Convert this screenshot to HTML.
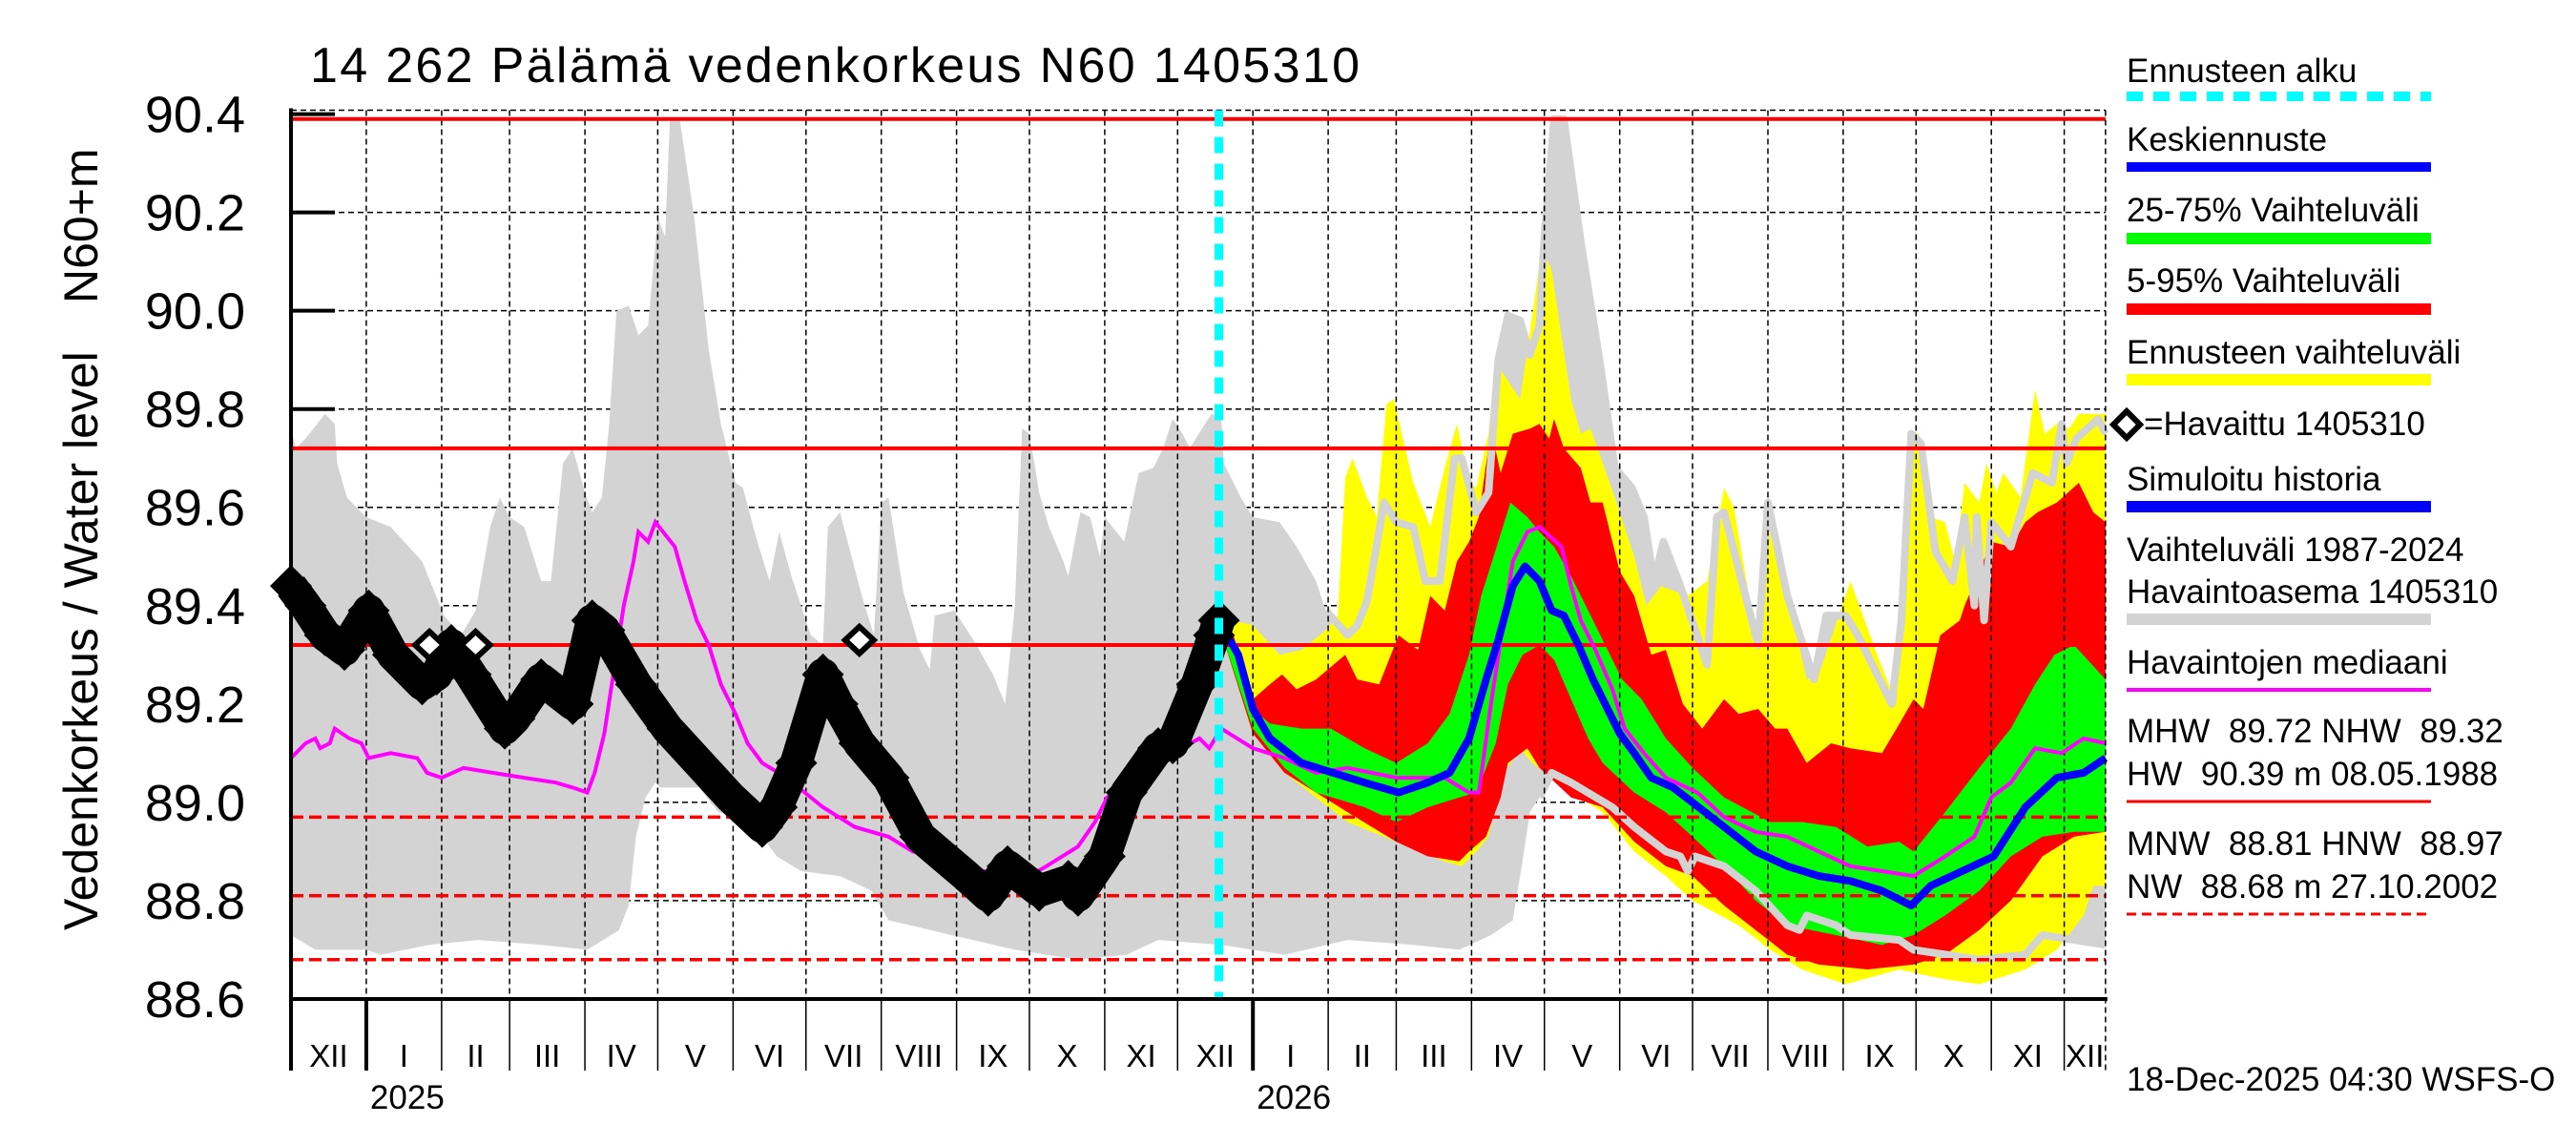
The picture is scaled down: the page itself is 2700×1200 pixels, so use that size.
<!DOCTYPE html>
<html><head><meta charset="utf-8"><style>
html,body{margin:0;padding:0;background:#fff;}
svg{display:block;font-family:"Liberation Sans",Arial,sans-serif;}
</style></head><body>
<svg id="chart" width="2700" height="1200" viewBox="0 0 2700 1200" xmlns="http://www.w3.org/2000/svg">
<rect width="2700" height="1200" fill="#fff"/>
<g id="grid"></g>
<g id="bands"></g>
<g id="lines"></g>
<g id="axes"></g>
<text x="325" y="86" font-size="52" textLength="1100">14 262 Pälämä vedenkorkeus N60 1405310</text>
<text transform="translate(102,975) rotate(-90)" font-size="50">Vedenkorkeus / Water level</text>
<text transform="translate(102,318) rotate(-90)" font-size="50">N60+m</text>
<g id="legend" font-size="35">
 <text x="2229" y="86">Ennusteen alku</text>
 <line x1="2229" y1="101" x2="2548" y2="101" stroke="#00ffff" stroke-width="10" stroke-dasharray="17,11"/>
 <text x="2229" y="158">Keskiennuste</text>
 <line x1="2229" y1="175" x2="2548" y2="175" stroke="#0000ff" stroke-width="10"/>
 <text x="2229" y="232">25-75% Vaihteluväli</text>
 <line x1="2229" y1="250" x2="2548" y2="250" stroke="#00ff00" stroke-width="12"/>
 <text x="2229" y="306">5-95% Vaihteluväli</text>
 <line x1="2229" y1="324" x2="2548" y2="324" stroke="#ff0000" stroke-width="12"/>
 <text x="2229" y="381">Ennusteen vaihteluväli</text>
 <line x1="2229" y1="398" x2="2548" y2="398" stroke="#ffff00" stroke-width="12"/>
 <path d="M2229,431 L2243,445 L2229,459 L2215,445 Z" fill="#fff" stroke="#000" stroke-width="6"/>
 <text x="2247" y="456">=Havaittu 1405310</text>
 <text x="2229" y="514">Simuloitu historia</text>
 <line x1="2229" y1="531" x2="2548" y2="531" stroke="#0000ff" stroke-width="12"/>
 <text x="2229" y="588">Vaihteluväli 1987-2024</text>
 <text x="2229" y="632">Havaintoasema 1405310</text>
 <line x1="2229" y1="649" x2="2548" y2="649" stroke="#d3d3d3" stroke-width="12"/>
 <text x="2229" y="706">Havaintojen mediaani</text>
 <line x1="2229" y1="723" x2="2548" y2="723" stroke="#ff00ff" stroke-width="4"/>
 <text x="2229" y="778" xml:space="preserve">MHW  89.72 NHW  89.32</text>
 <text x="2229" y="823" xml:space="preserve">HW  90.39 m 08.05.1988</text>
 <line x1="2229" y1="840" x2="2548" y2="840" stroke="#ff0000" stroke-width="3"/>
 <text x="2229" y="896" xml:space="preserve">MNW  88.81 HNW  88.97</text>
 <text x="2229" y="941" xml:space="preserve">NW  88.68 m 27.10.2002</text>
 <line x1="2229" y1="958" x2="2548" y2="958" stroke="#ff0000" stroke-width="3" stroke-dasharray="10,6"/>
</g>
<text x="2229" y="1143" font-size="35">18-Dec-2025 04:30 WSFS-O</text>
<script>
const yTicks = [88.6, 88.8, 89.0, 89.2, 89.4, 89.6, 89.8, 90.0, 90.2, 90.4];
const monthLengths = [31,31,28,31,30,31,30,31,31,30,31,30,31,31,28,31,30,31,30,31,31,30,31,30,31];
const monthLabels = ["XII","I","II","III","IV","V","VI","VII","VIII","IX","X","XI","XII","I","II","III","IV","V","VI","VII","VIII","IX","X","XI","XII"];
const yearLabels = ["2025","2026"];
const refSolid = [90.39, 89.72, 89.32];
const refDashed = [88.97, 88.81, 88.68];
const forecastStartDay = 382;
const endDay = 747;
const grayUpper = [[0,89.76],[2,89.72],[6,89.74],[14,89.79],[18,89.77],[19,89.69],[23,89.62],[31,89.58],[41,89.56],[54,89.49],[63,89.38],[70,89.34],[76,89.39],[82,89.56],[86,89.62],[90,89.58],[96,89.56],[103,89.45],[107,89.45],[112,89.69],[116,89.72],[121,89.63],[124,89.59],[128,89.62],[131,89.77],[134,90.0],[139,90.01],[143,89.95],[147,89.97],[151,90.19],[154,90.15],[156,90.39],[160,90.39],[166,90.19],[172,89.92],[177,89.77],[183,89.65],[186,89.64],[192,89.53],[197,89.45],[201,89.55],[206,89.46],[214,89.34],[219,89.32],[221,89.56],[226,89.59],[235,89.42],[240,89.34],[243,89.61],[246,89.62],[252,89.43],[259,89.31],[263,89.27],[265,89.38],[273,89.39],[281,89.33],[289,89.26],[294,89.20],[298,89.40],[301,89.76],[304,89.75],[308,89.63],[312,89.56],[318,89.49],[320,89.46],[323,89.54],[325,89.59],[329,89.58],[333,89.50],[335,89.58],[343,89.53],[349,89.67],[355,89.68],[359,89.72],[363,89.78],[367,89.75],[370,89.72],[375,89.76],[379,89.79],[383,89.78],[384,89.69],[391,89.62],[396,89.58],[407,89.57],[414,89.52],[422,89.45],[426,89.39],[435,89.34],[439,89.36],[443,89.41],[450,89.61],[455,89.57],[462,89.56],[467,89.45],[473,89.45],[479,89.70],[482,89.70],[488,89.59],[493,89.63],[497,89.90],[501,89.99],[506,89.98],[510,89.91],[514,89.97],[516,90.15],[520,90.39],[524,90.39],[531,90.14],[539,89.89],[545,89.68],[552,89.64],[557,89.58],[561,89.45],[565,89.53],[572,89.44],[583,89.28],[587,89.58],[590,89.59],[604,89.32],[608,89.61],[616,89.42],[627,89.25],[632,89.38],[640,89.38],[645,89.34],[659,89.20],[663,89.37],[667,89.75],[671,89.73],[677,89.51],[684,89.45],[689,89.58],[693,89.40],[694,89.58],[697,89.37],[700,89.57],[708,89.52],[717,89.67],[725,89.65],[729,89.77],[731,89.69],[735,89.74],[744,89.78],[747,89.75]];
const grayLower = [[0,88.73],[10,88.70],[31,88.70],[37,88.69],[57,88.71],[77,88.72],[103,88.71],[122,88.70],[135,88.74],[139,88.79],[142,88.93],[146,89.01],[150,89.04],[152,89.03],[159,89.03],[168,89.03],[176,88.98],[188,88.96],[194,88.93],[200,88.89],[210,88.86],[226,88.85],[239,88.82],[246,88.76],[255,88.75],[272,88.73],[298,88.70],[324,88.68],[344,88.69],[357,88.72],[383,88.71],[409,88.69],[435,88.72],[462,88.71],[481,88.70],[494,88.73],[503,88.76],[507,88.88],[510,88.98],[514,89.01],[519,89.06],[527,89.04],[544,88.99],[553,88.95],[566,88.90],[572,88.89],[575,88.86],[578,88.89],[590,88.87],[603,88.82],[616,88.75],[621,88.74],[624,88.77],[636,88.75],[642,88.73],[662,88.72],[668,88.70],[695,88.68],[714,88.69],[721,88.73],[734,88.72],[747,88.71]];
const yellowUpper = [[382,89.36],[388,89.37],[396,89.36],[407,89.30],[416,89.31],[426,89.35],[431,89.38],[434,89.66],[437,89.70],[443,89.62],[447,89.58],[451,89.81],[454,89.82],[462,89.65],[469,89.56],[475,89.68],[480,89.77],[485,89.65],[488,89.64],[493,89.75],[496,89.91],[498,89.88],[506,89.82],[511,89.99],[515,90.13],[519,90.08],[527,89.82],[531,89.75],[535,89.76],[545,89.62],[553,89.50],[558,89.40],[564,89.44],[575,89.42],[583,89.45],[590,89.64],[594,89.60],[603,89.34],[608,89.59],[613,89.49],[624,89.25],[629,89.26],[642,89.45],[653,89.30],[661,89.20],[666,89.75],[670,89.75],[675,89.58],[681,89.57],[685,89.49],[689,89.65],[695,89.61],[698,89.69],[702,89.63],[705,89.67],[712,89.62],[718,89.84],[722,89.75],[727,89.77],[732,89.76],[736,89.79],[747,89.79]];
const yellowLower = [[382,89.36],[396,89.14],[409,89.06],[422,89.01],[435,88.96],[455,88.92],[475,88.88],[482,88.87],[488,88.90],[493,88.93],[498,89.05],[506,89.11],[511,89.08],[527,89.02],[540,88.98],[553,88.90],[566,88.85],[577,88.80],[596,88.75],[609,88.70],[622,88.66],[640,88.63],[662,88.66],[681,88.64],[695,88.63],[714,88.66],[727,88.70],[738,88.77],[742,88.83],[747,88.83]];
const redUpper = [[382,89.36],[388,89.34],[396,89.21],[403,89.24],[408,89.26],[414,89.23],[422,89.25],[434,89.30],[439,89.25],[448,89.24],[456,89.34],[464,89.31],[469,89.42],[475,89.39],[480,89.49],[485,89.53],[489,89.58],[494,89.76],[498,89.67],[503,89.75],[510,89.76],[514,89.77],[518,89.74],[520,89.78],[524,89.72],[531,89.68],[535,89.61],[540,89.61],[547,89.47],[553,89.42],[560,89.30],[566,89.31],[573,89.20],[581,89.15],[590,89.21],[596,89.18],[604,89.19],[611,89.15],[616,89.15],[624,89.08],[634,89.12],[642,89.11],[655,89.10],[661,89.15],[668,89.21],[672,89.19],[679,89.34],[687,89.37],[689,89.40],[700,89.53],[708,89.52],[714,89.57],[719,89.59],[727,89.61],[736,89.65],[742,89.59],[747,89.57]];
const redLower = [[382,89.36],[396,89.14],[409,89.06],[422,89.02],[435,88.98],[455,88.92],[468,88.89],[481,88.88],[485,88.90],[492,88.93],[498,89.01],[501,89.08],[509,89.11],[514,89.07],[527,89.01],[540,88.99],[553,88.92],[566,88.87],[577,88.85],[590,88.79],[603,88.74],[616,88.69],[629,88.67],[649,88.66],[668,88.67],[681,88.69],[695,88.74],[708,88.80],[721,88.89],[734,88.93],[747,88.94]];
const greenUpper = [[382,89.36],[388,89.31],[396,89.19],[403,89.16],[416,89.15],[428,89.15],[442,89.11],[455,89.08],[468,89.12],[477,89.18],[485,89.30],[490,89.42],[497,89.53],[502,89.61],[509,89.58],[514,89.55],[520,89.52],[527,89.46],[534,89.39],[540,89.33],[548,89.25],[556,89.21],[566,89.13],[577,89.07],[590,89.01],[609,88.96],[622,88.96],[636,88.95],[649,88.91],[662,88.92],[668,88.90],[681,88.98],[695,89.07],[708,89.15],[718,89.24],[726,89.30],[734,89.32],[747,89.25]];
const greenLower = [[382,89.36],[396,89.15],[409,89.07],[422,89.02],[442,88.99],[455,88.96],[468,88.99],[481,89.01],[488,89.02],[496,89.12],[501,89.24],[507,89.30],[514,89.32],[520,89.29],[527,89.21],[534,89.13],[540,89.08],[553,89.02],[566,88.98],[577,88.93],[590,88.87],[603,88.80],[616,88.75],[636,88.73],[655,88.71],[668,88.73],[681,88.77],[695,88.82],[708,88.89],[721,88.93],[734,88.94],[747,88.94]];
const meanForecast = [[382,89.37],[390,89.30],[396,89.19],[403,89.13],[416,89.08],[429,89.06],[442,89.04],[456,89.02],[468,89.04],[477,89.06],[485,89.13],[492,89.25],[497,89.33],[503,89.44],[508,89.48],[514,89.45],[519,89.39],[524,89.38],[530,89.32],[536,89.25],[547,89.14],[553,89.10],[560,89.05],[569,89.03],[577,89.00],[590,88.95],[603,88.90],[616,88.87],[629,88.85],[642,88.84],[655,88.82],[667,88.79],[675,88.83],[688,88.86],[701,88.89],[714,88.99],[727,89.05],[738,89.06],[747,89.09]];
const medianSeries = [[0,89.09],[6,89.12],[10,89.13],[12,89.11],[16,89.12],[18,89.15],[24,89.13],[29,89.12],[32,89.09],[41,89.10],[52,89.09],[56,89.06],[62,89.05],[71,89.07],[83,89.06],[96,89.05],[109,89.04],[116,89.03],[122,89.02],[125,89.06],[129,89.14],[133,89.27],[137,89.40],[141,89.49],[143,89.55],[147,89.53],[150,89.57],[158,89.52],[162,89.45],[167,89.37],[172,89.32],[177,89.24],[183,89.18],[188,89.12],[194,89.08],[204,89.05],[219,88.99],[232,88.95],[246,88.93],[256,88.90],[272,88.88],[285,88.86],[304,88.85],[311,88.87],[324,88.91],[331,88.96],[336,89.01],[344,89.04],[354,89.12],[363,89.10],[374,89.13],[378,89.11],[383,89.15],[396,89.11],[409,89.09],[422,89.06],[435,89.07],[455,89.05],[475,89.05],[485,89.02],[489,89.02],[494,89.20],[498,89.33],[503,89.49],[509,89.55],[514,89.56],[523,89.52],[527,89.44],[531,89.37],[537,89.31],[544,89.23],[549,89.15],[557,89.10],[566,89.05],[579,89.02],[590,88.97],[603,88.94],[616,88.93],[629,88.90],[642,88.87],[655,88.86],[668,88.85],[681,88.89],[693,88.93],[700,89.01],[708,89.04],[718,89.11],[729,89.10],[738,89.13],[747,89.12]];
const observed = [[0,89.44],[6,89.40],[14,89.34],[22,89.31],[32,89.39],[42,89.30],[54,89.24],[60,89.26],[66,89.32],[74,89.26],[88,89.15],[92,89.17],[103,89.25],[116,89.20],[124,89.37],[129,89.35],[142,89.24],[155,89.15],[168,89.08],[181,89.01],[194,88.95],[200,88.99],[208,89.08],[219,89.26],[225,89.20],[234,89.12],[246,89.05],[259,88.93],[278,88.85],[287,88.81],[295,88.87],[308,88.82],[320,88.84],[324,88.81],[335,88.89],[344,89.02],[357,89.11],[363,89.12],[373,89.24],[380,89.34],[382,89.37]];
const observedExtra = [[57,89.32],[76,89.32],[234,89.33]];

const NS = "http://www.w3.org/2000/svg";
const X0 = 305, PX_PER_DAY = 2.546, Y_TOP_VAL = 90.438, Y0 = 100, PX_PER_M = 515.2;
function xs(d){ return X0 + d * PX_PER_DAY; }
function ys(v){ return Y0 + (Y_TOP_VAL - v) * PX_PER_M; }
const PLOT_TOP = ys(90.408), PLOT_BOTTOM = ys(88.6), PLOT_RIGHT = xs(endDay);
function mk(tag, attrs, parent){ const e = document.createElementNS(NS, tag); for (const k in attrs) e.setAttribute(k, attrs[k]); parent.appendChild(e); return e; }
function pts(arr){ return arr.map(p => xs(p[0]).toFixed(1) + "," + ys(p[1]).toFixed(1)).join(" "); }
function band(up, lo){ return pts(up) + " " + pts(lo.slice().reverse()); }
const grid = document.getElementById("grid"), bands = document.getElementById("bands"), lines = document.getElementById("lines"), axes = document.getElementById("axes");

if (!document.getElementById("done-flag")) {
const flag = mk("g", {id: "done-flag"}, grid);



yTicks.forEach(t => {
  const tk = mk("line", {x1: X0, x2: X0 + 46, y1: ys(t), y2: ys(t), stroke: "#000", "stroke-width": 4}, grid);
  
  
  const gy = ys(t === 90.4 ? 90.408 : t);
  const gl = mk("line", {x1: X0, x2: PLOT_RIGHT, y1: gy, y2: gy, stroke: "#000", "stroke-width": 1.5, "stroke-dasharray": "6,4"}, grid);
  
  
  const lb = mk("text", {x: 257, y: ys(t) + 19, "font-size": 54, "text-anchor": "end"}, axes);
  lb.textContent = t.toFixed(1);
  
  
});

const gb = mk("polygon", {points: band(grayUpper, grayLower), fill: "#d3d3d3"}, bands);



let day = 0;
const monthStarts = [];
monthLengths.forEach(len => { monthStarts.push(day); day += len; });
let gridPath = "";
monthStarts.forEach((d, i) => {
  if (i > 0 && d <= endDay) gridPath += "M" + xs(d).toFixed(1) + "," + PLOT_TOP.toFixed(1) + "V" + PLOT_BOTTOM.toFixed(1);
});

[[yellowUpper, yellowLower, "#ffff00", "forecast-range-band"], [redUpper, redLower, "#ff0000", "band-5-95"], [greenUpper, greenLower, "#00ff00", "band-25-75"]].forEach(b => {
  const p = mk("polygon", {points: band(b[0], b[1]), fill: b[2]}, bands);
  
  
});
[grayUpper, grayLower].forEach((arr, i) => {
  const seg = arr.filter(p => p[0] >= (i === 0 ? 426 : 514));
  const l = mk("polyline", {points: pts(seg), fill: "none", stroke: "#d3d3d3", "stroke-width": 8, "stroke-linejoin": "round"}, bands);
  
  
});

const mg = mk("path", {d: gridPath, fill: "none", stroke: "#000", "stroke-width": 1.5, "stroke-dasharray": "6,4"}, lines);



refSolid.forEach(v => {
  const l = mk("line", {x1: X0, x2: PLOT_RIGHT, y1: ys(v), y2: ys(v), stroke: "#ff0000", "stroke-width": 4}, lines);
  
  
});
refDashed.forEach(v => {
  const l = mk("line", {x1: X0, x2: PLOT_RIGHT, y1: ys(v), y2: ys(v), stroke: "#ff0000", "stroke-width": 3.5, "stroke-dasharray": "13,6"}, lines);
  
  
});

const md = mk("polyline", {points: pts(medianSeries), fill: "none", stroke: "#ff00ff", "stroke-width": 4}, lines);


const mf = mk("polyline", {points: pts(meanForecast), fill: "none", stroke: "#0000ff", "stroke-width": 8, "stroke-linejoin": "round"}, lines);


const ob = mk("polyline", {points: pts(observed), fill: "none", stroke: "#000", "stroke-width": 34, "stroke-linejoin": "round"}, lines);


observed.forEach(p => {
  const x = xs(p[0]), y = ys(p[1]);
  const dm = mk("path", {d: `M${x},${y-22} L${x+22},${y} L${x},${y+22} L${x-22},${y} Z`, fill: "#000"}, lines);
  
  
});
observedExtra.forEach(p => {
  const x = xs(p[0]), y = ys(p[1]);
  const dm = mk("path", {d: `M${x},${y-14} L${x+15},${y} L${x},${y+14} L${x-15},${y} Z`, fill: "#fff", stroke: "#000", "stroke-width": 6}, lines);
  
  
});

const fs = mk("line", {x1: xs(forecastStartDay), x2: xs(forecastStartDay), y1: PLOT_TOP, y2: PLOT_BOTTOM, stroke: "#00ffff", "stroke-width": 9, "stroke-dasharray": "17,11"}, lines);



const ya = mk("line", {x1: X0, x2: X0, y1: PLOT_TOP - 2, y2: 1122, stroke: "#000", "stroke-width": 4}, axes);


const xa = mk("line", {x1: X0, x2: PLOT_RIGHT + 2, y1: PLOT_BOTTOM, y2: PLOT_BOTTOM, stroke: "#000", "stroke-width": 4}, axes);


monthStarts.forEach((d, i) => {
  if (d > endDay) return;
  const isYear = monthLabels[i] === "I";
  if (i > 0) {
    const t = mk("line", {x1: xs(d), x2: xs(d), y1: PLOT_BOTTOM, y2: 1122, stroke: "#000", "stroke-width": isYear ? 4 : 1.5}, axes);
    
    
  }
  const e = Math.min(d + monthLengths[i], endDay);
  const lb = mk("text", {x: (xs(d) + xs(e)) / 2, y: 1118, "font-size": 33, "text-anchor": "middle"}, axes);
  lb.textContent = monthLabels[i];
  
  
});
let yi = 0;
monthStarts.forEach((d, i) => {
  if (i > 0 && monthLabels[i] === "I" && yi < yearLabels.length) {
    const t = mk("text", {x: xs(d) + 4, y: 1162, "font-size": 35}, axes);
    t.textContent = yearLabels[yi++];
    
    
  }
});
const rb = mk("line", {x1: PLOT_RIGHT, x2: PLOT_RIGHT, y1: PLOT_TOP, y2: 1122, stroke: "#000", "stroke-width": 1.5, "stroke-dasharray": "6,4"}, axes);


}
</script>
</svg>
</body></html>
